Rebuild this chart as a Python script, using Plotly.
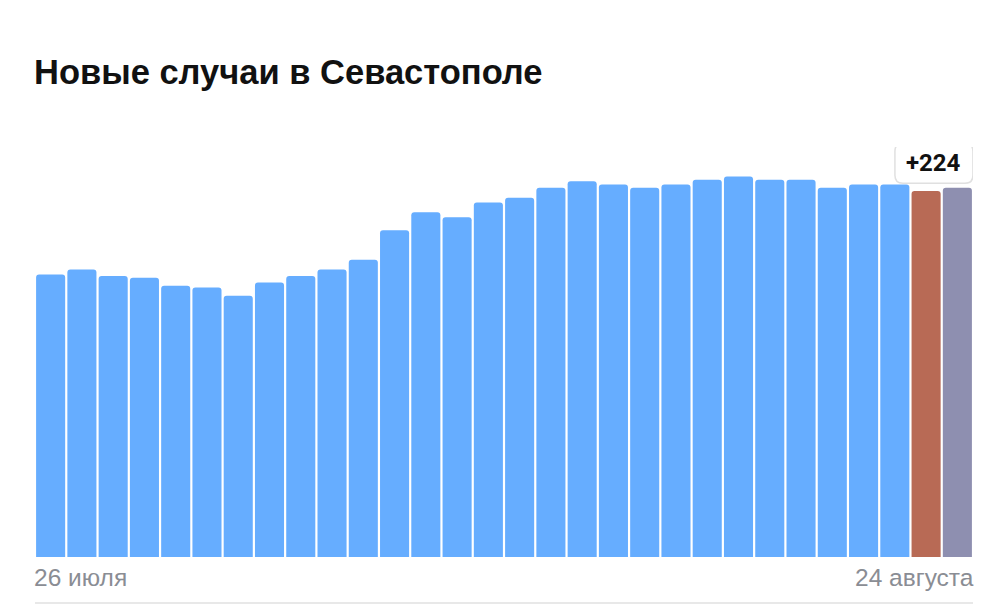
import plotly.graph_objects as go

# Data
dates = ["26 июля"] + [f"{d} июля" for d in range(27, 32)] + [f"{d} августа" for d in range(1, 25)]
cases = [173, 176, 172, 171, 166, 165, 160, 168, 172, 176,
         182, 200, 211, 208, 217, 220, 226, 230, 228, 226,
         228, 231, 233, 231, 231, 226, 228, 228, 224, 226]
title_text = "Новые случаи в Севастополе"
highlight_index = 28
badge_text = "+224"

BLUE = "#66ADFF"
RED = "#B86A55"
GRAY = "#8E8FB0"

n = len(cases)
colors = [BLUE] * n
colors[highlight_index] = RED
colors[-1] = GRAY

W, H = 992, 597
ML, MR, MT, MB = 27, 27, 139, 48
YMAX = 251
plot_w = W - ML - MR
plot_h = H - MT - MB
px_x = plot_w / n          # pixels per x unit
px_y = plot_h / YMAX       # pixels per y unit

fig = go.Figure()
fig.add_trace(go.Bar(
    x=list(range(n)), y=cases,
    marker=dict(color=colors, line=dict(width=0)),
    hoverinfo="skip",
))

fig.update_layout(
    width=W, height=H,
    margin=dict(l=ML, r=MR, t=MT, b=MB),
    paper_bgcolor="white", plot_bgcolor="white",
    bargap=0.07, barcornerradius=3,
    showlegend=False,
    xaxis=dict(visible=False, range=[-0.5, n - 0.5], fixedrange=True),
    yaxis=dict(visible=False, range=[0, YMAX], fixedrange=True),
    font=dict(family="Roboto, Arial, sans-serif"),
)

# Title
fig.add_annotation(
    text=f"<b>{title_text}</b>", xref="paper", yref="paper",
    x=0, y=1.183, xanchor="left", yanchor="middle", showarrow=False, xshift=-3,
    font=dict(family="Liberation Sans, Arial, sans-serif", size=34.5, color="#111111"),
)

# Axis end labels
lab_font = dict(family="Liberation Sans, Arial, sans-serif", size=24.5, color="#8A8D94")
fig.add_annotation(
    text=dates[0], xref="x", yref="paper", x=-0.5, y=-0.05,
    xanchor="left", yanchor="middle", showarrow=False, xshift=-3, font=lab_font,
)
fig.add_annotation(
    text=dates[-1], xref="x", yref="paper", x=n - 0.5, y=-0.05,
    xanchor="right", yanchor="middle", showarrow=False, xshift=3, font=lab_font,
)

# Badge (rounded box + text)
bx, by = highlight_index + 0.25, 241
hw, hh, r = 39 / px_x, 20 / px_y, 8
rx, ry = r / px_x, r / px_y
x0, x1, y0, y1 = bx - hw, bx + hw, by - hh, by + hh
path = (f"M {x0+rx},{y0} L {x1-rx},{y0} Q {x1},{y0} {x1},{y0+ry} "
        f"L {x1},{y1-ry} Q {x1},{y1} {x1-rx},{y1} L {x0+rx},{y1} "
        f"Q {x0},{y1} {x0},{y1-ry} L {x0},{y0+ry} Q {x0},{y0} {x0+rx},{y0} Z")
fig.add_shape(type="path", path=path, xref="x", yref="y",
              fillcolor="white", line=dict(color="#E0E0E0", width=1.5), layer="above")
fig.add_annotation(
    text=f"<b>{badge_text}</b>", xref="x", yref="y",
    x=bx, y=by, xanchor="center", yanchor="middle", showarrow=False,
    font=dict(family="Roboto, Arial, sans-serif", size=24, color="#111111"),
)

# Bottom divider line
fig.add_shape(type="line", xref="paper", yref="paper", x0=0, x1=1,
              y0=-0.112, y1=-0.112, line=dict(color="#E8E8E8", width=2))

fig.write_html("out.html")
